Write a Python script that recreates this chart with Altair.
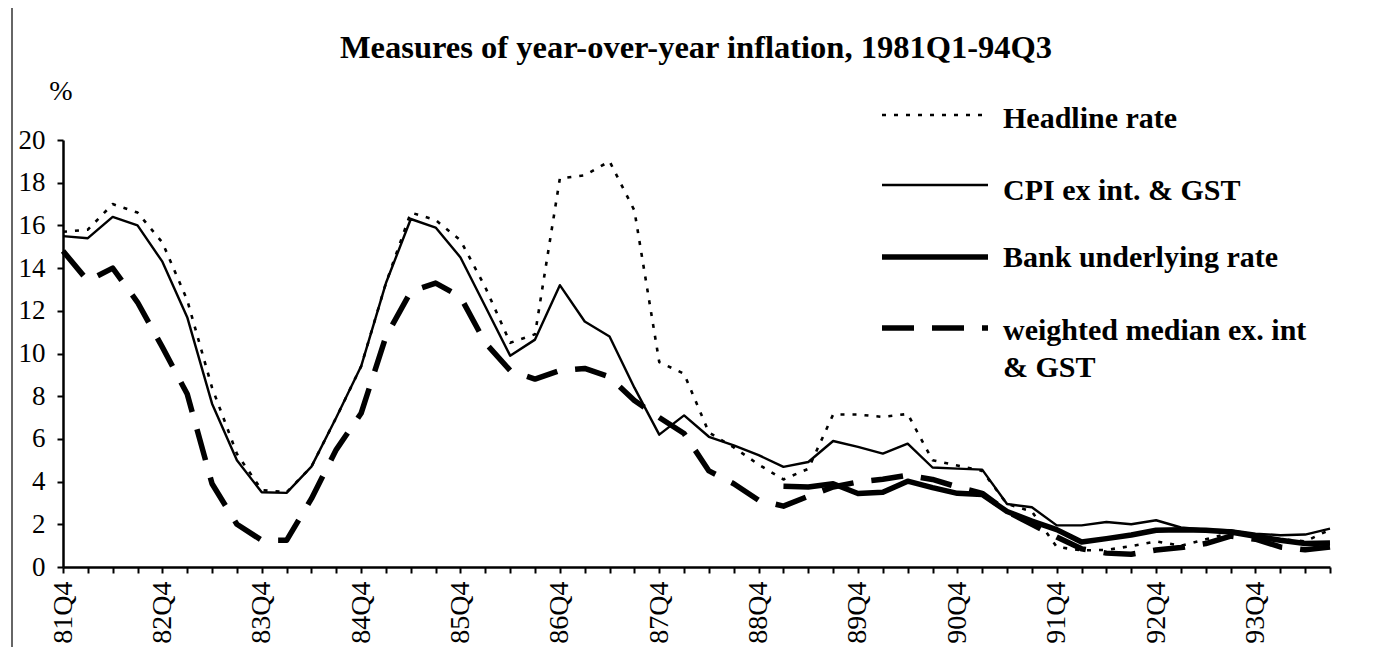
import altair as alt
import pandas as pd

# ---- data ----
quarters = [f"{81 + (i + 3) // 4}Q{(i + 3) % 4 + 1}" for i in range(52)]  # 81Q4 ... 94Q3

headline = [15.7, 15.8, 17.0, 16.6, 15.2, 12.5, 8.4, 5.3, 3.6, 3.5,
            4.7, 7.0, 9.4, 13.3, 16.6, 16.25, 15.3, 13.1, 10.5, 10.9,
            18.2, 18.35, 19.0, 16.7, 9.6, 9.05, 6.3, 5.6, 4.8, 4.1,
            4.6, 7.14, 7.14, 7.03, 7.17, 5.0, 4.75, 4.5, 2.95, 2.6,
            0.94, 0.78, 0.8, 0.98, 1.2, 1.0, 1.3, 1.6, 1.5, 1.3,
            1.2, 1.75]

cpi_ex = [15.5, 15.4, 16.4, 16.0, 14.3, 11.7, 7.65, 5.0, 3.5, 3.47,
          4.7, 7.0, 9.4, 13.3, 16.3, 15.9, 14.5, 12.2, 9.9, 10.65,
          13.2, 11.5, 10.8, 8.4, 6.2, 7.1, 6.1, 5.7, 5.24, 4.69,
          4.92, 5.9, 5.63, 5.31, 5.78, 4.66, 4.61, 4.56, 2.95, 2.8,
          1.95, 1.95, 2.11, 2.0, 2.19, 1.85, 1.75, 1.72, 1.56, 1.49,
          1.52, 1.8]

bank_start = 29  # series begins at 89Q1
bank = [3.78, 3.75, 3.9, 3.44, 3.5, 4.02, 3.72, 3.45, 3.4, 2.6,
        2.15, 1.75, 1.17, 1.33, 1.5, 1.72, 1.74, 1.72, 1.64, 1.44,
        1.25, 1.1, 1.12]

wmedian = [14.8, 13.4, 14.0, 12.4, 10.3, 8.1, 3.9, 2.0, 1.25, 1.25,
           3.2, 5.5, 7.2, 10.8, 12.9, 13.3, 12.65, 10.5, 9.2, 8.8,
           9.2, 9.3, 8.9, 7.8, 7.0, 6.25, 4.5, 3.9, 3.13, 2.85,
           3.31, 3.75, 3.98, 4.11, 4.3, 4.1, 3.75, 3.45, 2.6, 2.0,
           1.4, 0.85, 0.65, 0.6, 0.8, 0.91, 1.1, 1.45, 1.3, 0.94,
           0.81, 0.94]

series_names = ["Headline rate", "CPI ex int. & GST", "Bank underlying rate",
                "weighted median ex. int\n& GST"]
y_ticks = list(range(0, 21, 2))
title_text = "Measures of  year-over-year inflation, 1981Q1-94Q3"

FONT = "Liberation Serif"


def frame(values, start=0):
    return pd.DataFrame({"quarter": quarters[start:start + len(values)],
                         "value": values})


x_enc = alt.X(
    "quarter:O",
    sort=quarters,
    scale=alt.Scale(type="point", padding=0, domain=quarters),
    axis=alt.Axis(
        title=None,
        labelExpr="indexof(datum.value, 'Q4') >= 0 ? datum.value : ''",
        labelAngle=-90,
        labelFont=FONT,
        labelFontSize=28,
        labelColor="black",
        labelPadding=8,
        labelOverlap=False,
        tickSize=6,
        tickWidth=2,
        tickColor="black",
        domainColor="black",
        domainWidth=2.5,
        grid=False,
    ),
)
y_enc = alt.Y(
    "value:Q",
    scale=alt.Scale(domain=[0, 20], nice=False, zero=True),
    axis=alt.Axis(
        title=None,
        values=y_ticks,
        labelFont=FONT,
        labelFontSize=27,
        labelColor="black",
        labelPadding=12,
        tickSize=6,
        tickWidth=2,
        tickColor="black",
        domainColor="black",
        domainWidth=2.5,
        grid=False,
    ),
)

styles = [
    dict(strokeWidth=2.6, strokeDash=[4, 8]),     # headline (dotted)
    dict(strokeWidth=2.4),                         # CPI ex int & GST (thin)
    dict(strokeWidth=5.5),                         # bank underlying (thick)
    dict(strokeWidth=5.5, strokeDash=[32, 18]),    # weighted median (dashed)
]

line_headline = alt.Chart(frame(headline)).mark_line(
    color="black", strokeJoin="round", **styles[0]).encode(x=x_enc, y=y_enc)
line_cpi = alt.Chart(frame(cpi_ex)).mark_line(
    color="black", strokeJoin="round", **styles[1]).encode(x=x_enc, y=y_enc)
line_wm = alt.Chart(frame(wmedian)).mark_line(
    color="black", strokeJoin="round", **styles[3]).encode(x=x_enc, y=y_enc)
line_bank = alt.Chart(frame(bank, bank_start)).mark_line(
    color="black", strokeJoin="round", **styles[2]).encode(x=x_enc, y=y_enc)

one = pd.DataFrame({"k": [0]})

# title and "%" label
title = alt.Chart(one).mark_text(
    text=title_text, font=FONT, fontSize=32.5, fontWeight="bold",
    align="center", baseline="alphabetic", color="black"
).encode(x=alt.value(633), y=alt.value(-82))

pct = alt.Chart(one).mark_text(
    text="%", font=FONT, fontSize=28, align="center",
    baseline="alphabetic", color="black"
).encode(x=alt.value(-2), y=alt.value(-40))

# legend (drawn by hand)
leg_line_y = [-25, 45, 117, 188]
leg_text_y = [-12, 60, 127, 200]
legend_layers = []
for name, st, ly, ty in zip(series_names, styles, leg_line_y, leg_text_y):
    legend_layers.append(
        alt.Chart(one).mark_rule(color="black", strokeCap="butt", **st).encode(
            x=alt.value(819), x2=alt.value(925), y=alt.value(ly)))
    legend_layers.append(
        alt.Chart(one).mark_text(
            text=name, font=FONT, fontSize=30, fontWeight="bold",
            align="left", baseline="alphabetic", color="black",
            lineBreak="\n", lineHeight=37
        ).encode(x=alt.value(940), y=alt.value(ty)))

# scan frame lines
border_left = alt.Chart(one).mark_rule(color="#333333", strokeWidth=1.5).encode(
    x=alt.value(-51), y=alt.value(-140), y2=alt.value(515))
border_top = alt.Chart(one).mark_rule(color="#777777", strokeWidth=1.5).encode(
    x=alt.value(-51), x2=alt.value(1305), y=alt.value(-137))

chart = alt.layer(
    line_headline, line_cpi, line_wm, line_bank,
    title, pct, *legend_layers, border_left, border_top
).properties(
    width=1267,
    height=427,
    padding={"left": 55, "top": 132, "right": 30, "bottom": 80},
    autosize="none",
    background="white",
).configure_view(stroke=None)

chart.save("out.html", embed_options={"renderer": "svg", "actions": False})
